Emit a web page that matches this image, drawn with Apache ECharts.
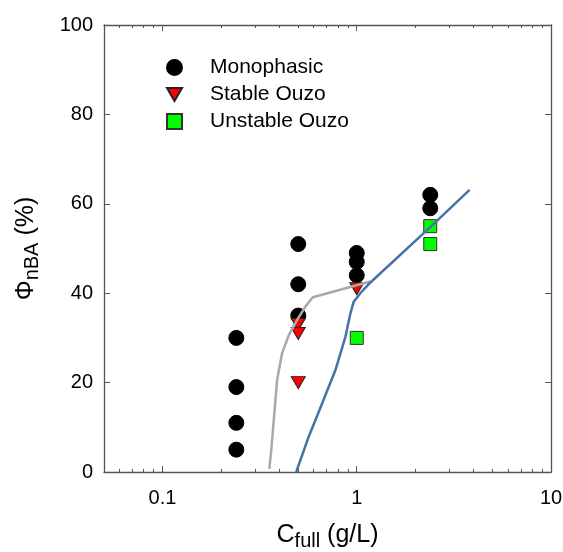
<!DOCTYPE html>
<html>
<head>
<meta charset="utf-8">
<script src="https://cdn.jsdelivr.net/npm/echarts@6/dist/echarts.min.js"></script>
<style>html,body{margin:0;padding:0;background:#fff}#c{width:563px;height:552px}</style>
</head>
<body>
<div id="c"></div>
<script>
const monophasic = [[0.24,30],[0.24,19],[0.24,11],[0.24,5],[0.5,51],[0.5,42],[0.5,35],[1,49],[1,47],[1,44],[2.39,62],[2.39,59]];
const stableOuzo = [[0.5,33],[0.5,31],[0.5,20],[1,41]];
const unstableOuzo = [[1,30],[2.39,55],[2.39,51]];
const grayCurve = [[0.355,0.7],[0.365,6],[0.374,11.6],[0.389,20.6],[0.413,26.6],[0.447,30.6],[0.493,34],[0.544,37],[0.594,39.1],[1.176,42.6]];
const blueCurve = [[0.488,0],[0.566,7.9],[0.664,15.4],[0.777,22.8],[0.875,30.3],[0.928,35.5],[0.965,38.1],[1.044,40],[1.176,42.4],[2.39,54.8],[3.81,63.1]];
const xTickLabels = [0.1, 1, 10];
const xMajorTicks = [0.1, 1, 10];
const xMinorTicks = [0.06,0.07,0.08,0.09,0.2,0.3,0.4,0.5,0.6,0.7,0.8,0.9,2,3,4,5,6,7,8,9];
const yTicks = [0,20,40,60,80,100];

const FONT = '"Liberation Sans", Arial, sans-serif';
const AX = '#555';
const xBase = {type:'log', logBase:10, min:0.05, max:10, splitLine:{show:false}, gridIndex:0};
const chart = echarts.init(document.getElementById('c'), null, {renderer:'canvas'});
chart.setOption({
  animation:false,
  textStyle:{fontFamily:FONT},
  grid:{left:104, right:12, top:25, bottom:80, containLabel:false, outerBoundsMode:'none'},
  legend:{
    orient:'vertical', left:161, top:52, itemWidth:15, itemHeight:15, itemGap:6,
    symbolKeepAspect:true,
    textStyle:{fontSize:21, color:'#000', fontFamily:FONT, padding:[0,0,0,23]},
    data:[
      {name:'Monophasic', icon:'circle'},
      {name:'Stable Ouzo', icon:'path://M0,0 L14,0 L7,12 Z'},
      {name:'Unstable Ouzo', icon:'rect'}
    ]
  },
  xAxis:[
    Object.assign({}, xBase, {position:'bottom',
      axisLine:{show:true, lineStyle:{color:AX, width:1.3}},
      axisTick:{show:true, inside:true, length:6, lineStyle:{color:AX}, customValues:xMajorTicks},
      axisLabel:{show:true, customValues:xTickLabels, margin:16, fontSize:20, color:'#000', fontFamily:FONT, formatter:v=>String(v)},
      name:'{a|C}{s|full}{a| (g/L)}', nameLocation:'middle', nameGap:47,
      nameTextStyle:{rich:{a:{fontSize:25, color:'#000', fontFamily:FONT}, s:{fontSize:20, color:'#000', fontFamily:FONT, padding:[12,0,0,0]}}}
    }),
    Object.assign({}, xBase, {position:'bottom',
      axisLine:{show:false},
      axisTick:{show:true, inside:true, length:3, lineStyle:{color:AX}, customValues:xMinorTicks},
      axisLabel:{show:false}
    }),
    Object.assign({}, xBase, {position:'top',
      axisLine:{show:true, lineStyle:{color:AX, width:1.3}},
      axisTick:{show:true, inside:true, length:6, lineStyle:{color:AX}, customValues:xMajorTicks},
      axisLabel:{show:false}
    }),
    Object.assign({}, xBase, {position:'top',
      axisLine:{show:false},
      axisTick:{show:true, inside:true, length:3, lineStyle:{color:AX}, customValues:xMinorTicks},
      axisLabel:{show:false}
    })
  ],
  yAxis:[
    {type:'value', min:0, max:100, interval:20, position:'left', splitLine:{show:false},
      axisLine:{show:true, lineStyle:{color:AX, width:1.3}},
      axisTick:{show:true, inside:true, length:6, lineStyle:{color:AX}},
      axisLabel:{margin:11, fontSize:20, color:'#000', fontFamily:FONT},
      name:'{a|Φ}{s|nBA}{a| (%)}', nameLocation:'middle', nameRotate:90, nameGap:62,
      nameTextStyle:{rich:{a:{fontSize:25, color:'#000', fontFamily:FONT}, s:{fontSize:20, color:'#000', fontFamily:FONT, padding:[12,0,0,0]}}}
    },
    {type:'value', min:0, max:100, interval:20, position:'right', splitLine:{show:false},
      axisLine:{show:true, lineStyle:{color:AX, width:1.3}},
      axisTick:{show:true, inside:true, length:6, lineStyle:{color:AX}},
      axisLabel:{show:false}
    }
  ],
  series:[
    {name:'Monophasic', type:'scatter', data:monophasic, symbol:'circle', symbolSize:15,
      itemStyle:{color:'#000', borderColor:'#000', borderWidth:1, opacity:1}, z:2},
    {name:'Stable Ouzo', type:'scatter', data:stableOuzo, symbol:'triangle', symbolRotate:180, symbolSize:[14,12],
      itemStyle:{color:'#ff0000', borderColor:'#222', borderWidth:1, opacity:1}, z:3},
    {name:'Unstable Ouzo', type:'scatter', data:unstableOuzo, symbol:'rect', symbolSize:13,
      itemStyle:{color:'#00ff00', borderColor:'#333', borderWidth:1, opacity:1}, z:3},
    {name:'gray', type:'line', data:grayCurve, showSymbol:false, symbol:'none', smooth:false,
      lineStyle:{color:'#a9a9a9', width:2.5}, z:4},
    {name:'blue', type:'line', data:blueCurve, showSymbol:false, symbol:'none', smooth:false,
      lineStyle:{color:'#4572a7', width:2.5}, z:4}
  ]
});
</script>
</body>
</html>
